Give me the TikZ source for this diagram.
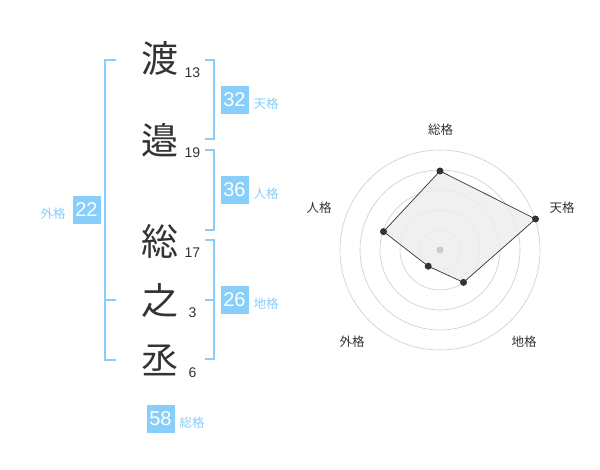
\documentclass[tikz,border=0pt]{standalone}
\usepackage{fontspec}
\usetikzlibrary{calc}
\setmainfont{Liberation Sans}
\newfontfamily\cjk{Noto Sans CJK JP}
\definecolor{sky}{HTML}{87CEFA}
\definecolor{ink}{HTML}{333333}
\definecolor{ring}{HTML}{CCCCCC}
\tikzset{
  kanji/.style={inner sep=0pt, text=ink, font=\cjk\fontsize{37}{40}\selectfont},
  strokes/.style={inner sep=0pt, text=ink, font=\fontsize{14}{16}\selectfont},
  brk/.style={draw=sky, line width=2pt},
  valbox/.style={fill=sky, text=white, minimum width=28pt, minimum height=28pt, inner sep=0pt, font=\fontsize{20}{22}\selectfont},
  kaku/.style={text=sky, inner sep=0pt, font=\cjk\fontsize{12.5}{14}\selectfont},
  axis/.style={text=ink, inner sep=0pt, font=\cjk\fontsize{12.5}{14}\selectfont},
  rings/.style={draw=ring, line width=0.6pt},
  dot/.style={circle, fill=ink, inner sep=0pt, minimum size=7pt},
}
\begin{document}
\begin{tikzpicture}[x=1pt, y=-1pt]
\useasboundingbox (0,0) rectangle (600,470);
% characters
\node[kanji] (k1) at (160,58) {渡};
\node[kanji] (k2) at (160,140) {邉};
\node[kanji] (k3) at (160,241) {総};
\node[kanji] (k4) at (160,300) {之};
\node[kanji] (k5) at (160,360) {丞};
\node[strokes] (n1) at (192.5,73) {13};
\node[strokes] (n2) at (192.5,153) {19};
\node[strokes] (n3) at (192.5,253) {17};
\node[strokes] (n4) at (192.5,313) {3};
\node[strokes] (n5) at (192.5,373) {6};
% left bracket
\draw[brk] (116,60) -- (105,60) -- (105,360) -- (116,360);
\draw[brk] (105,300) -- (116,300);
% right brackets
\draw[brk] (205,60) -- (214,60) -- (214,139) -- (205,139);
\draw[brk] (205,150) -- (214,150) -- (214,230) -- (205,230);
\draw[brk] (205,240) -- (214,240) -- (214,359) -- (205,359);
\draw[brk] (205,300) -- (214,300);
% boxes
\node[valbox] (b22) at (86.5,210) {22};
\node[kaku] (l22) at (53,214) {外格};
\node[valbox] (b32) at (234.5,100) {32};
\node[kaku] (l32) at (266,104) {天格};
\node[valbox] (b36) at (234.5,190) {36};
\node[kaku] (l36) at (266,194) {人格};
\node[valbox] (b26) at (234.5,300) {26};
\node[kaku] (l26) at (266,304) {地格};
\node[valbox] (b58) at (160.5,419) {58};
\node[kaku] (l58) at (192,423) {総格};
% radar
\coordinate (c) at (440,250);
\foreach \r in {20,40,60,80,100} \draw[rings] (c) circle[radius=\r];
\coordinate (p1) at ($(c)+(0,-79)$);
\coordinate (p2) at ($(c)+(95.5,-31)$);
\coordinate (p3) at ($(c)+(23.5,32.4)$);
\coordinate (p4) at ($(c)+(-11.8,16.2)$);
\coordinate (p5) at ($(c)+(-56.5,-18.4)$);
\filldraw[fill=black!7, draw=ink, line width=0.7pt, fill opacity=0.85] (p1) -- (p2) -- (p3) -- (p4) -- (p5) -- cycle;
\fill[ring] (c) circle[radius=3.5];
\foreach \p in {p1,p2,p3,p4,p5} \node[dot] at (\p) {};
\node[axis] (a1) at (440.5,130) {総格};
\node[axis] (a2) at (562,208) {天格};
\node[axis] (a3) at (524,342) {地格};
\node[axis] (a4) at (352,342) {外格};
\node[axis] (a5) at (319,208) {人格};
\end{tikzpicture}
\end{document}
